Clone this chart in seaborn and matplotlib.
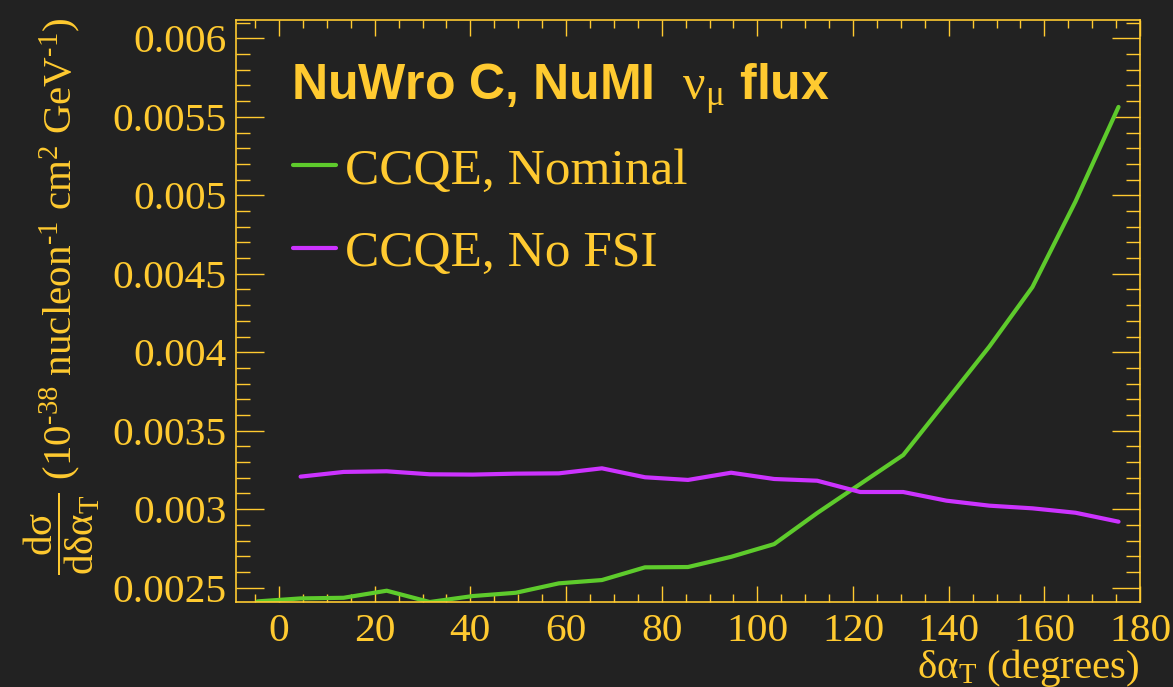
import numpy as np
import pandas as pd
import matplotlib
matplotlib.use("Agg")
import matplotlib.pyplot as plt
from matplotlib.ticker import MultipleLocator, FuncFormatter
from matplotlib.lines import Line2D
import seaborn as sns

# Bin centres (degrees) and differential cross sections
nominal_x = [-4.5, 4.5, 13.5, 22.5, 31.5, 40.5, 49.5, 58.5, 67.5, 76.5, 85.5,
             94.5, 103.5, 112.5, 121.5, 130.5, 139.5, 148.5, 157.5, 166.5, 175.5]
nominal_y = [0.002412, 0.002431, 0.002435, 0.002480, 0.002408, 0.002446,
             0.002467, 0.002527, 0.002548, 0.002629, 0.002631, 0.002696,
             0.002777, 0.002975, 0.003160, 0.003345, 0.003690, 0.004036,
             0.004415, 0.004960, 0.005563]

nofsi_x = [4.5, 13.5, 22.5, 31.5, 40.5, 49.5, 58.5, 67.5, 76.5, 85.5,
           94.5, 103.5, 112.5, 121.5, 130.5, 139.5, 148.5, 157.5, 166.5, 175.5]
nofsi_y = [0.003207, 0.003237, 0.003241, 0.003222, 0.003220, 0.003226,
           0.003228, 0.003260, 0.003203, 0.003186, 0.003232, 0.003192,
           0.003181, 0.003109, 0.003109, 0.003054, 0.003022, 0.003005,
           0.002977, 0.002920]

labels = ["CCQE, Nominal", "CCQE, No FSI"]
colors = ["#5ECB2C", "#CC33FF"]

BG = "#222222"
FG = "#FFCA30"

sns.set_style("ticks")
plt.rcParams.update({
    "font.family": ["Liberation Serif", "DejaVu Serif"],
    "mathtext.fontset": "custom",
    "mathtext.rm": "Liberation Serif",
    "mathtext.it": "Liberation Serif:italic",
    "mathtext.bf": "Liberation Sans:bold",
    "mathtext.sf": "Liberation Sans",
    "text.color": FG,
    "axes.edgecolor": FG,
    "axes.labelcolor": FG,
    "xtick.color": FG,
    "ytick.color": FG,
})

df = pd.concat([
    pd.DataFrame({"x": nominal_x, "y": nominal_y, "sample": labels[0]}),
    pd.DataFrame({"x": nofsi_x, "y": nofsi_y, "sample": labels[1]}),
], ignore_index=True)

fig = plt.figure(figsize=(11.73, 6.87), dpi=100, facecolor=BG)
ax = fig.add_axes([0.2012, 0.1237, 0.7707, 0.8472])
ax.set_facecolor(BG)

sns.lineplot(data=df, x="x", y="y", hue="sample", palette=dict(zip(labels, colors)),
             estimator=None, sort=False, linewidth=3.0, legend=False, ax=ax)

ax.set_xlim(-9, 180)
ax.set_ylim(0.002408, 0.006117)

ax.xaxis.set_major_locator(MultipleLocator(20))
ax.xaxis.set_minor_locator(MultipleLocator(5))
ax.yaxis.set_major_locator(MultipleLocator(0.0005))
ax.yaxis.set_minor_locator(MultipleLocator(0.0001))
ax.yaxis.set_major_formatter(FuncFormatter(lambda v, p: f"{v:g}"))

for s in ax.spines.values():
    s.set_visible(True)
    s.set_linewidth(1.2)
    s.set_color(FG)

ax.tick_params(axis="both", which="both", direction="in", top=True, right=True,
               width=1.0, colors=FG, labelsize=29.8)
ax.tick_params(axis="x", which="major", length=11.5, pad=8)
ax.tick_params(axis="x", which="minor", length=5.8)
ax.tick_params(axis="y", which="major", length=20, pad=7)
ax.tick_params(axis="y", which="minor", length=10)

ax.set_xlabel(r"$\mathrm{\delta\alpha}_{\mathrm{T}}$ (degrees)", fontsize=29.5, loc="right")
ax.xaxis.set_label_coords(1.0, -0.1306)
ax.xaxis.label.set_va("baseline")

ax.set_ylabel(r"$\dfrac{\mathrm{d\sigma}}{\mathrm{d\delta\alpha}_{\mathrm{T}}}$"
              r" (10$^{\mathrm{‐38}}$ nucleon$^{\mathrm{‐1}}$ cm$^{\mathrm{2}}$ GeV$^{\mathrm{‐1}}$)",
              fontsize=29.5, loc="top")
ax.yaxis.label.set_va("center")
ax.yaxis.set_label_coords(-0.1925, 1.005)

ax.text(0.0608, 0.8625, r"NuWro C, NuMI  $\mathrm{\nu}_{\mathrm{\mu}}$ flux",
        transform=ax.transAxes, fontsize=36, fontweight="bold",
        family="Liberation Sans", color=FG, va="baseline", ha="left")

handles = [Line2D([], [], color=c, linewidth=3.0) for c in colors]
leg = ax.legend(handles, labels, loc="upper left", bbox_to_anchor=(0.0627, 0.781),
                frameon=False, borderpad=0, borderaxespad=0,
                handlelength=0.84, handletextpad=0.18, labelspacing=0.7,
                prop={"family": "Liberation Serif", "size": 37})
for t in leg.get_texts():
    t.set_color(FG)

fig.savefig("out.png", dpi=100, facecolor=BG)
